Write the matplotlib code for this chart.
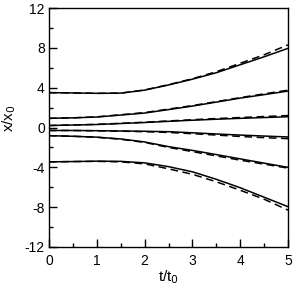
import matplotlib
matplotlib.use("Agg")
import matplotlib.pyplot as plt
from matplotlib.ticker import MultipleLocator

plt.rcParams["font.family"] = ["Liberation Sans", "DejaVu Sans"]
plt.rcParams["axes.unicode_minus"] = False

t = [0, 0.5, 1, 1.5, 2, 2.5, 3, 3.5, 4, 4.5, 5]

# solid curves (top to bottom)
s1 = [3.5, 3.47, 3.43, 3.45, 3.75, 4.27, 4.85, 5.5, 6.3, 7.1, 7.95]
s2 = [0.92, 0.97, 1.05, 1.25, 1.45, 1.8, 2.15, 2.55, 2.95, 3.3, 3.66]
s3 = [0.2, 0.25, 0.3, 0.4, 0.5, 0.62, 0.73, 0.83, 0.92, 1.0, 1.08]
s4 = [-0.3, -0.3, -0.32, -0.35, -0.38, -0.42, -0.53, -0.65, -0.76, -0.86, -0.95]
s5 = [-0.82, -0.88, -0.97, -1.15, -1.45, -1.92, -2.3, -2.72, -3.15, -3.58, -4.0]
s6 = [-3.45, -3.42, -3.38, -3.4, -3.55, -3.93, -4.45, -5.2, -6.05, -7.0, -7.95]

# dashed curves
d1 = [3.5, 3.47, 3.43, 3.45, 3.77, 4.3, 4.9, 5.6, 6.45, 7.3, 8.3]
d2 = [0.92, 0.97, 1.07, 1.28, 1.5, 1.85, 2.2, 2.6, 3.0, 3.38, 3.75]
d3 = [0.2, 0.25, 0.32, 0.42, 0.53, 0.66, 0.78, 0.9, 1.0, 1.1, 1.2]
d4 = [-0.3, -0.3, -0.33, -0.37, -0.42, -0.5, -0.62, -0.76, -0.9, -1.02, -1.12]
d5 = [-0.82, -0.88, -0.98, -1.18, -1.5, -2.0, -2.42, -2.85, -3.28, -3.68, -4.08]
d6 = [-3.45, -3.42, -3.4, -3.45, -3.65, -4.15, -4.7, -5.45, -6.3, -7.2, -8.3]

fig = plt.figure(figsize=(2.94, 2.89), dpi=100)
ax = fig.add_axes([49/294, 1 - 247/289, 239/294, 239/289])

for s in [s1, s2, s3, s4, s5, s6]:
    ax.plot(t, s, color="black", lw=1.1)
for d in [d1, d2, d3, d4, d5, d6]:
    ax.plot(t, d, color="black", lw=1.1, dashes=(5, 3))

ax.set_xlim(0, 5)
ax.set_ylim(-12, 12)
ax.xaxis.set_major_locator(MultipleLocator(1))
ax.xaxis.set_minor_locator(MultipleLocator(0.5))
ax.yaxis.set_major_locator(MultipleLocator(4))
ax.yaxis.set_minor_locator(MultipleLocator(2))
ax.tick_params(which="both", direction="in", width=1, labelsize=10)
ax.tick_params(axis="x", pad=5)
ax.tick_params(axis="y", pad=3)
ax.tick_params(which="major", length=6)
ax.tick_params(which="minor", length=3)
for sp in ax.spines.values():
    sp.set_linewidth(1.0)

ax.set_xlabel("t/t$_0$", fontsize=11, labelpad=0)
ax.set_ylabel("x/x$_0$", fontsize=11)
ax.yaxis.set_label_coords(-0.13, 0.54)

fig.savefig("out.png", dpi=100)
